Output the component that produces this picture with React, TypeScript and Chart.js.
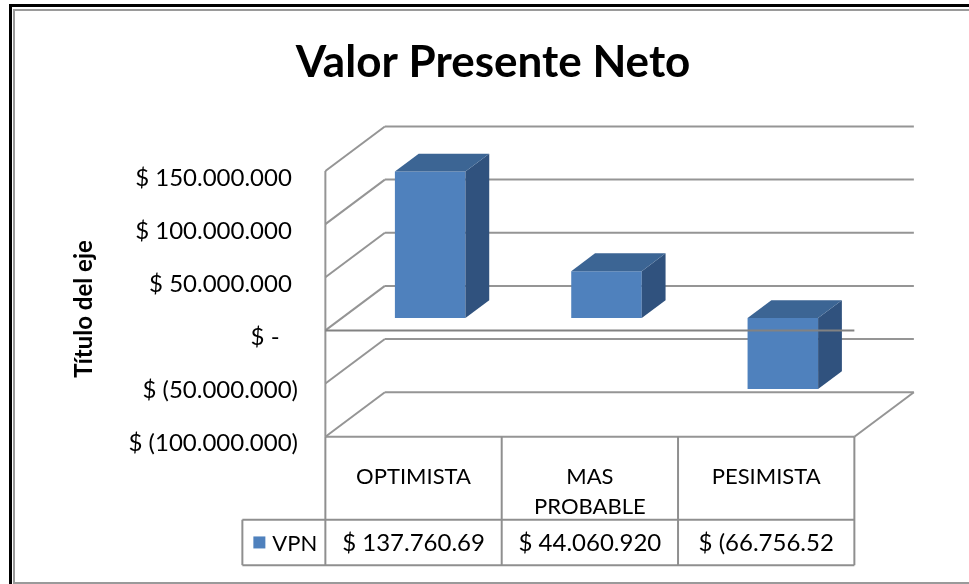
import React, { useEffect, useRef } from 'react';
import { Chart, registerables } from 'chart.js';

Chart.register(...registerables);

// ---------- data ----------
const CATEGORIES = ['OPTIMISTA', 'MAS PROBABLE', 'PESIMISTA'];
const SERIES_NAME = 'VPN';
const VPN_VALUES = [137760690, 44060920, -66756520];
const TICK_VALUES = [-100000000, -50000000, 0, 50000000, 100000000, 150000000];
const TITLE = 'Valor Presente Neto';
const AXIS_TITLE = 'Título del eje';

// ---------- style ----------
const FONT = 'Lato, "Open Sans", sans-serif';
const BLUE = '#4F81BD';
const BLUE_TOP = '#3C6594';
const BLUE_SIDE = '#30527E';
const GRID = '#959595';
const ZERO_LINE = '#828282';
const TABLE_LINE = '#8f8f8f';
const DX = 59.5; // depth offset (full depth)
const DY = -44.5;
const BAR_DEPTH = 0.4;

function groupDots(n: number) {
  return Math.round(Math.abs(n)).toString().replace(/\B(?=(\d{3})+(?!\d))/g, '.');
}
function tickLabel(v: number) {
  if (v === 0) return '$ -   ';
  return v < 0 ? `$ (${groupDots(v)})` : `$ ${groupDots(v)} `;
}
function tableLabel(v: number) {
  const s = v < 0 ? `$ (${groupDots(v)})` : `$ ${groupDots(v)}`;
  return s.slice(0, 12); // cell truncation as in the sheet
}
function wrap(ctx: CanvasRenderingContext2D, text: string, maxW: number) {
  const words = text.split(' ');
  const lines: string[] = [];
  let cur = '';
  for (const w of words) {
    const test = cur ? cur + ' ' + w : w;
    if (ctx.measureText(test).width > maxW && cur) {
      lines.push(cur);
      cur = w;
    } else cur = test;
  }
  if (cur) lines.push(cur);
  return lines;
}

function line(ctx: CanvasRenderingContext2D, x1: number, y1: number, x2: number, y2: number) {
  ctx.beginPath();
  ctx.moveTo(x1, y1);
  ctx.lineTo(x2, y2);
  ctx.stroke();
}

function geometry(chart: any) {
  const { chartArea, scales } = chart;
  const y = scales.y;
  const yb = scales.yb;
  const t0 = (y.getPixelForValue(0) - yb.getPixelForValue(0)) / -DY;
  const xL = chartArea.left - t0 * DX;
  const xR = chartArea.right - t0 * DX;
  return { y, yb, t0, xL, xR };
}

const scene3d = {
  id: 'scene3d',
  beforeDatasetsDraw(chart: any) {
    const ctx: CanvasRenderingContext2D = chart.ctx;
    const { y, xL, xR } = geometry(chart);
    ctx.save();
    ctx.strokeStyle = GRID;
    ctx.lineWidth = 2;
    for (const v of TICK_VALUES) {
      const yf = y.getPixelForValue(v);
      line(ctx, xL, yf, xL + DX, yf + DY);
      line(ctx, xL + DX, yf + DY, xR + DX, yf + DY);
    }
    const yTop = y.getPixelForValue(TICK_VALUES[TICK_VALUES.length - 1]);
    const yBot = y.getPixelForValue(TICK_VALUES[0]);
    line(ctx, xL, yTop, xL, yBot);
    line(ctx, xL, yBot, xR, yBot);
    line(ctx, xR, yBot, xR + DX, yBot + DY);
    ctx.restore();
  },
  afterDatasetsDraw(chart: any) {
    const ctx: CanvasRenderingContext2D = chart.ctx;
    const { y, xL, xR } = geometry(chart);
    const dx = DX * BAR_DEPTH;
    const dy = DY * BAR_DEPTH;
    const meta = chart.getDatasetMeta(0);
    ctx.save();
    meta.data.forEach((bar: any) => {
      const p = bar.getProps(['x', 'y', 'base', 'width'], true);
      const left = p.x - p.width / 2;
      const right = p.x + p.width / 2;
      const top = Math.min(p.y, p.base);
      const bot = Math.max(p.y, p.base);
      ctx.fillStyle = BLUE_SIDE;
      ctx.beginPath();
      ctx.moveTo(right, top);
      ctx.lineTo(right + dx, top + dy);
      ctx.lineTo(right + dx, bot + dy);
      ctx.lineTo(right, bot);
      ctx.closePath();
      ctx.fill();
      ctx.fillStyle = BLUE_TOP;
      ctx.beginPath();
      ctx.moveTo(left, top);
      ctx.lineTo(right, top);
      ctx.lineTo(right + dx, top + dy);
      ctx.lineTo(left + dx, top + dy);
      ctx.closePath();
      ctx.fill();
    });
    // zero plane front edge
    const y0 = y.getPixelForValue(0);
    ctx.strokeStyle = ZERO_LINE;
    ctx.lineWidth = 2;
    line(ctx, xL, y0, xR, y0);
    ctx.restore();
  },
  afterDraw(chart: any) {
    const ctx: CanvasRenderingContext2D = chart.ctx;
    const { y, t0, xL, xR } = geometry(chart);
    const xs = chart.scales.x;
    const colW = (chart.chartArea.right - chart.chartArea.left) / CATEGORIES.length;
    const top = y.getPixelForValue(TICK_VALUES[0]);
    const headBot = top + 83;
    const rowBot = headBot + 45.5;
    const keyLeft = xL - 83;
    ctx.save();
    // table lines
    ctx.strokeStyle = TABLE_LINE;
    ctx.lineWidth = 2;
    for (let i = 0; i <= CATEGORIES.length; i++) {
      const xb = xs.getPixelForValue(0) - colW / 2 + i * colW - t0 * DX;
      line(ctx, xb, top, xb, rowBot);
    }
    line(ctx, keyLeft, headBot, xR, headBot);
    line(ctx, keyLeft, rowBot, xR, rowBot);
    line(ctx, keyLeft, headBot, keyLeft, rowBot);
    // header texts
    ctx.fillStyle = '#000';
    ctx.textAlign = 'center';
    ctx.textBaseline = 'middle';
    ctx.font = `22px ${FONT}`;
    CATEGORIES.forEach((c, i) => {
      const cx = xs.getPixelForValue(i) - t0 * DX;
      const lines = wrap(ctx, c, colW - 20);
      lines.forEach((ln, k) => ctx.fillText(ln, cx, top + 40 + k * 30));
    });
    // values row
    const rowMid = (headBot + rowBot) / 2;
    ctx.font = `24px ${FONT}`;
    VPN_VALUES.forEach((v, i) => {
      const cx = xs.getPixelForValue(i) - t0 * DX;
      ctx.fillText(tableLabel(v), cx, rowMid + 1);
    });
    // legend key
    ctx.fillStyle = BLUE;
    ctx.fillRect(keyLeft + 11, rowMid - 6, 12, 12);
    ctx.fillStyle = '#000';
    ctx.textAlign = 'left';
    ctx.font = `22px ${FONT}`;
    ctx.fillText(SERIES_NAME, keyLeft + 30, rowMid + 1);

    // axis title
    ctx.save();
    ctx.translate(92, 309);
    ctx.rotate(-Math.PI / 2);
    ctx.font = `bold 24px ${FONT}`;
    ctx.textAlign = 'center';
    ctx.textBaseline = 'alphabetic';
    ctx.fillText(AXIS_TITLE, 0, 0);
    ctx.restore();

    // chart frame
    ctx.fillStyle = '#000';
    ctx.fillRect(9, 4, 960, 3);
    ctx.fillRect(9, 4, 3, 580);
    ctx.fillStyle = '#9a9a9a';
    ctx.fillRect(13, 9, 956, 2);
    ctx.fillRect(13, 9, 2, 575);
    ctx.fillRect(13, 582, 956, 2);
    ctx.restore();
  },
};

export default function App() {
  const ref = useRef<HTMLCanvasElement>(null);
  useEffect(() => {
    const chart = new Chart(ref.current as HTMLCanvasElement, {
      type: 'bar',
      data: {
        labels: CATEGORIES,
        datasets: [
          {
            label: SERIES_NAME,
            data: VPN_VALUES,
            backgroundColor: BLUE,
            borderWidth: 0,
            barPercentage: 0.4,
            categoryPercentage: 1,
            xAxisID: 'x',
            yAxisID: 'yb',
          },
        ],
      },
      options: {
        responsive: false,
        animation: false,
        devicePixelRatio: 1,
        layout: { padding: { left: 17, right: 0, top: 0, bottom: 147.3 } },
        plugins: {
          legend: { display: false },
          tooltip: { enabled: false },
          title: {
            display: true,
            text: TITLE,
            color: '#000',
            font: { family: FONT, size: 44, weight: 'bold', lineHeight: 1.2 },
            padding: { top: 36.6, bottom: 28.4 },
          },
        },
        scales: {
          x: { type: 'category', display: false, grid: { display: false } },
          y: {
            type: 'linear',
            position: 'left',
            min: -100000000,
            max: 200000000,
            bounds: 'data',
            afterBuildTicks: (s: any) => {
              s.ticks = TICK_VALUES.map((v) => ({ value: v }));
            },
            afterFit: (s: any) => {
              s.width = 325;
            },
            grid: { display: false, drawTicks: false },
            border: { display: false },
            ticks: {
              padding: 44,
              labelOffset: 7,
              color: '#000',
              autoSkip: false,
              font: { family: FONT, size: 24 },
              callback: (v: any) => tickLabel(Number(v)),
            },
          },
          yb: {
            type: 'linear',
            position: 'right',
            min: -111700000,
            max: 188300000,
            bounds: 'data',
            grid: { display: false },
            border: { display: false },
            ticks: { display: false },
            afterFit: (s: any) => {
              s.width = 98;
            },
          },
        },
      } as any,
      plugins: [scene3d],
    });
    return () => chart.destroy();
  }, []);
  return (
    <div style={{ position: 'fixed', left: 0, top: 0, width: 969, height: 584, background: '#fff' }}>
      <canvas ref={ref} width={969} height={584} style={{ display: 'block', width: 969, height: 584 }} />
    </div>
  );
}
